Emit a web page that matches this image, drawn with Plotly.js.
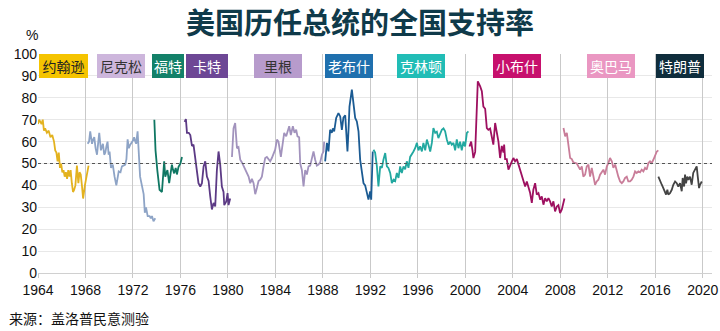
<!DOCTYPE html>
<html>
<head>
<meta charset="utf-8">
<script src="https://cdn.plot.ly/plotly-3.0.1.min.js"></script>
<style>
  html, body { margin: 0; padding: 0; background: #ffffff; }
  #chart { width: 720px; height: 331px; }
</style>
</head>
<body>
<div id="chart"></div>
<script>
// ---------- data ----------
const presidents = ["约翰逊", "尼克松", "福特", "卡特", "里根", "老布什", "克林顿", "小布什", "奥巴马", "特朗普"];

const johnsonX = [1964.0,1964.1,1964.2,1964.3,1964.4,1964.5,1964.6,1964.75,1964.9,1965.05,1965.2,1965.35,1965.45,1965.55,1965.65,1965.75,1965.85,1965.95,1966.05,1966.15,1966.25,1966.35,1966.45,1966.55,1966.65,1966.75,1966.85,1966.95,1967.05,1967.15,1967.28,1967.4,1967.5,1967.6,1967.7,1967.8,1967.95,1968.1,1968.26];
const johnsonY = [68,70,69,68,70,65,66,64,65,62,63,60,56,55,51,55,48,50,46,47,44,46,43,47,44,47,41,37,38,40,49,41,46,45,40,34,40,44,49];

const nixonX = [1968.18,1968.3,1968.4,1968.55,1968.65,1968.74,1968.85,1968.97,1969.08,1969.16,1969.3,1969.47,1969.58,1969.67,1969.77,1969.86,1969.95,1970.03,1970.15,1970.3,1970.45,1970.6,1970.8,1970.95,1971.07,1971.2,1971.35,1971.45,1971.55,1971.65,1971.77,1971.95,1972.1,1972.2,1972.27,1972.39,1972.5,1972.6,1972.75,1972.9,1973.0,1973.1,1973.24,1973.4,1973.5,1973.6,1973.73,1973.88];
const nixonY = [59,60,64.7,59,61,62,57,54,60,64,56,59,54,55,58,60,54,55.5,48,49.5,44,40,46.4,46,48.7,49,49.5,52,61,57,58.6,60,62,60,59,64.7,52,44,40,36,27.5,30,26,26,25,26,23.6,25];

const fordX = [1973.8,1973.9,1974.05,1974.24,1974.44,1974.58,1974.63,1974.72,1974.78,1974.9,1975.05,1975.18,1975.28,1975.38,1975.47,1975.6,1975.7,1975.84,1976.0,1976.13];
const fordY = [70,56,47,38,37,46,51,44,45,47,41,46,49.5,47,45.5,48,45,48.5,50,53];

const carterX = [1976.35,1976.46,1976.55,1976.7,1976.83,1976.97,1977.1,1977.25,1977.39,1977.52,1977.67,1977.81,1977.95,1978.09,1978.23,1978.37,1978.51,1978.65,1978.79,1978.93,1979.07,1979.21,1979.35,1979.49,1979.63,1979.69,1979.86,1979.97,1980.05,1980.19];
const carterY = [69,70.3,64,64,63,58,58.6,53,48,41,39.5,41,48.7,51,44,42,35,29,32,30.4,47,55.5,49.5,39.5,37,31,32.7,36.5,31,34];

const reaganX = [1980.34,1980.47,1980.61,1980.76,1980.89,1981.04,1981.18,1981.32,1981.46,1981.6,1981.74,1981.88,1982.02,1982.16,1982.3,1982.44,1982.58,1982.72,1982.86,1983.0,1983.14,1983.28,1983.42,1983.56,1983.7,1983.84,1983.98,1984.13,1984.26,1984.46,1984.6,1984.74,1984.91,1985.02,1985.16,1985.3,1985.47,1985.61,1985.75,1985.86,1986.0,1986.09,1986.23,1986.37,1986.51,1986.65,1986.79,1986.93,1987.07,1987.21,1987.35,1987.49,1987.63,1987.77,1987.92,1988.05,1988.11];
const reaganY = [53,66,68.5,57,57.5,51.7,50.5,49,47,45.7,44,41,43,41,36,38.8,42,42.6,44,48.7,52.5,53,51.7,51,52.5,54.8,56.3,60.9,60,53,57.8,64,62.4,64.7,67,63,67,64,65.4,62.4,62,50,47,39.5,47,45,48.7,49,51.7,55.5,51.7,49,49.5,50.5,54,55.5,60];

const bushSrX = [1988.19,1988.34,1988.47,1988.61,1988.75,1988.84,1988.95,1989.12,1989.31,1989.46,1989.6,1989.73,1989.88,1989.96,1990.07,1990.16,1990.24,1990.44,1990.58,1990.72,1990.86,1991.0,1991.14,1991.28,1991.42,1991.56,1991.7,1991.84,1991.98,1992.07,1992.2];
const bushSrY = [51,59.4,55.5,65.4,64,66,64.7,70.8,73,71.5,65.4,71,72,65.4,55.5,65.4,76,83.7,76.8,70.8,69.2,64.7,51.7,45.7,41,40,35.8,33.5,37.3,33.5,55.5];

const clintonX = [1992.26,1992.4,1992.55,1992.68,1992.83,1992.97,1993.1,1993.25,1993.39,1993.52,1993.67,1993.81,1993.95,1994.09,1994.23,1994.37,1994.51,1994.65,1994.79,1994.93,1995.07,1995.21,1995.35,1995.49,1995.63,1995.77,1995.92,1996.05,1996.19,1996.34,1996.47,1996.62,1996.76,1996.89,1997.04,1997.18,1997.31,1997.46,1997.6,1997.73,1997.88,1998.02,1998.16,1998.3,1998.44,1998.58,1998.72,1998.86,1999.0,1999.14,1999.28,1999.42,1999.56,1999.7,1999.84,1999.98,2000.13,2000.26];
const clintonY = [56.3,55,48.7,39.5,48.7,48,51.7,54.8,48.7,48,45.7,41,42.6,42,45.7,43.4,48.7,45.7,48.7,47.3,51,48,53,54,55.5,57,59.4,56,57.8,55.5,59.4,56,60.9,58.6,55.5,59.4,66.2,64,64.5,61.6,64,65.4,66,64.7,61,58.6,60,58.6,59.4,56,61,57,60,56,60,57.8,64,64.7];

const bushJrX = [2000.35,2000.49,2000.6,2000.68,2000.83,2000.97,2001.05,2001.25,2001.39,2001.52,2001.67,2001.81,2001.94,2002.09,2002.23,2002.36,2002.51,2002.65,2002.79,2002.93,2003.07,2003.21,2003.27,2003.35,2003.49,2003.63,2003.77,2003.92,2004.05,2004.19,2004.34,2004.47,2004.62,2004.76,2004.89,2005.04,2005.18,2005.31,2005.46,2005.6,2005.73,2005.88,2006.02,2006.16,2006.31,2006.44,2006.58,2006.72,2006.86,2007.0,2007.14,2007.28,2007.42,2007.56,2007.71,2007.84,2007.98,2008.13,2008.27,2008.35];
const bushJrY = [57.8,60,56,52.5,55.3,77.6,87.5,85.2,83,76,75,66.2,65.4,66,62.4,58.6,68.5,65,60,52.5,58,55,58.6,52,52,47.2,48.7,51,52.5,51,52,49.5,47.2,44.9,42.6,39.5,41.8,39.5,36.5,32,38,41,35.8,36.5,33.5,35,31.2,34.2,32.7,34.2,32.7,30.4,32.7,28.1,30.4,31,27.4,29,32,34];

const obamaX = [2008.27,2008.41,2008.55,2008.68,2008.83,2008.97,2009.1,2009.39,2009.67,2009.81,2009.94,2010.09,2010.23,2010.37,2010.51,2010.65,2010.79,2010.93,2011.07,2011.21,2011.35,2011.49,2011.63,2011.77,2011.92,2012.05,2012.19,2012.34,2012.47,2012.62,2012.76,2012.89,2013.04,2013.18,2013.31,2013.46,2013.6,2013.73,2013.88,2014.02,2014.16,2014.3,2014.44,2014.58,2014.72,2014.86,2015.0,2015.14,2015.28,2015.42,2015.56,2015.7,2015.84,2015.98,2016.13,2016.26];
const obamaY = [66.2,62.4,64,58,52.5,52,50.5,50,47.2,48.7,44,44.9,48.7,49.5,44,48,43.4,40.3,41.8,42.6,44.9,46.4,47.2,44.9,48.7,50.2,52.5,51,48,49.5,46.4,44,41.8,41,41.8,43.4,44,41.8,41.8,42.6,44,46.4,45.7,46.4,46,47.2,46.4,48,47.2,50.2,51,50.2,51.7,53.3,55.5,56];

const trumpX = [2016.26,2016.4,2016.55,2016.68,2016.83,2016.91,2017.02,2017.1,2017.24,2017.39,2017.52,2017.67,2017.81,2017.94,2018.09,2018.23,2018.31,2018.43,2018.51,2018.59,2018.7,2018.79,2018.93,2019.07,2019.2,2019.35,2019.49,2019.58,2019.69,2019.77,2019.92];
const trumpY = [44,41.8,40.3,38.8,37.3,35.8,38,35.8,36.5,38,40.3,41.8,41,39.5,41,37.3,43.4,39.5,44.9,41,44,42.6,44,40.3,45.7,47.2,48.7,44,38.8,40.3,41.8];

const xTicks = [1964,1968,1972,1976,1980,1984,1988,1992,1996,2000,2004,2008,2012,2016,2020];
const yTicks = [0,10,20,30,40,50,60,70,80,90,100];
const refLevel = 50;

const titleText = "美国历任总统的全国支持率";
const sourceText = "来源：盖洛普民意测验";
const unitText = "%";

// ---------- styles ----------
const seriesX = [johnsonX, nixonX, fordX, carterX, reaganX, bushSrX, clintonX, bushJrX, obamaX, trumpX];
const seriesY = [johnsonY, nixonY, fordY, carterY, reaganY, bushSrY, clintonY, bushJrY, obamaY, trumpY];
const lineColors = ["#E3B21F", "#8EA4C6", "#0F7763", "#5C3A85", "#A293BD", "#1B5B93", "#22A8A0", "#9E1060", "#C97D99", "#444444"];
const boxColors  = ["#F5C400", "#CDB6DC", "#138169", "#6D4795", "#B79BCC", "#1F70AE", "#21BDB6", "#C7106D", "#EA97C2", "#0F2D3C"];
const boxText    = ["#222222", "#333333", "#ffffff", "#ffffff", "#333333", "#ffffff", "#ffffff", "#ffffff", "#ffffff", "#ffffff"];
const boxWidths  = [49, 48, 32, 42, 48, 48, 48, 48, 48, 48];

const cjk = '"Noto Sans CJK SC", "Noto Sans", sans-serif';
const latin = '"Liberation Sans", Arial, sans-serif';

const xRange = [1964, 2020.78];

const traces = [];
// dashed 50% reference line, drawn on the grid-only overlay axis
traces.push({
  type: 'scatter', mode: 'lines', xaxis: 'x2', yaxis: 'y',
  x: xRange, y: [refLevel, refLevel],
  line: { color: '#555555', width: 1, dash: '3px,3px' },
  hoverinfo: 'skip', showlegend: false
});
seriesX.forEach((xs, i) => traces.push({
  type: 'scatter', mode: 'lines',
  x: xs, y: seriesY[i],
  name: presidents[i],
  line: { color: lineColors[i], width: 1.8 },
  hoverinfo: 'skip', showlegend: false
}));

const annotations = presidents.map((name, i) => {
  const xs = seriesX[i];
  return {
    xref: 'x', yref: 'y',
    x: (xs[0] + xs[xs.length - 1]) / 2, y: 100,
    xanchor: 'center', yanchor: 'top',
    text: name, showarrow: false,
    width: boxWidths[i], height: 24,
    bgcolor: boxColors[i], borderpad: 0, borderwidth: 0,
    font: { family: cjk, size: 14, color: boxText[i] },
    align: 'center', valign: 'middle'
  };
});

annotations.push({
  xref: 'paper', yref: 'paper', x: -0.0095, y: 1.088,
  xanchor: 'center', yanchor: 'middle', showarrow: false,
  text: unitText, font: { family: latin, size: 14, color: '#111111' }
});
annotations.push({
  xref: 'paper', yref: 'paper', x: -0.0464, y: -0.204,
  xanchor: 'left', yanchor: 'middle', showarrow: false,
  text: sourceText, font: { family: cjk, size: 14, color: '#111111' }
});

const layout = {
  width: 720, height: 331,
  margin: { l: 38, r: 8, t: 54, b: 58 },
  paper_bgcolor: '#ffffff', plot_bgcolor: '#ffffff',
  title: {
    text: titleText,
    font: { family: cjk, size: 29, color: '#0F3A4A', weight: 'bold' },
    x: 0.5, xanchor: 'center', xref: 'container',
    y: 0.9275, yanchor: 'middle', yref: 'container'
  },
  xaxis: {
    range: xRange, type: 'linear',
    tickvals: xTicks, ticktext: xTicks.map(String),
    showgrid: false,
    showline: true, linecolor: '#D0D0D0', linewidth: 1,
    ticks: 'outside', ticklen: 4, tickcolor: '#C9C9C9',
    zeroline: false,
    tickfont: { family: latin, size: 14, color: '#111111' },
    fixedrange: true
  },
  xaxis2: {
    overlaying: 'x', matches: 'x', anchor: 'y',
    range: xRange, type: 'linear',
    tickvals: xTicks.slice(1),
    showgrid: true, gridcolor: '#C9C9C9', gridwidth: 1,
    showticklabels: false, ticks: '', showline: false, zeroline: false,
    fixedrange: true
  },
  yaxis: {
    range: [0, 100],
    tickvals: yTicks, ticktext: yTicks.map(String),
    showgrid: true, gridcolor: '#E8E8E8', gridwidth: 1,
    showline: false, zeroline: false, ticks: '',
    tickfont: { family: latin, size: 14, color: '#111111' },
    fixedrange: true
  },
  annotations: annotations,
  showlegend: false
};

Plotly.newPlot('chart', traces, layout, { staticPlot: true, displayModeBar: false });
</script>
</body>
</html>
